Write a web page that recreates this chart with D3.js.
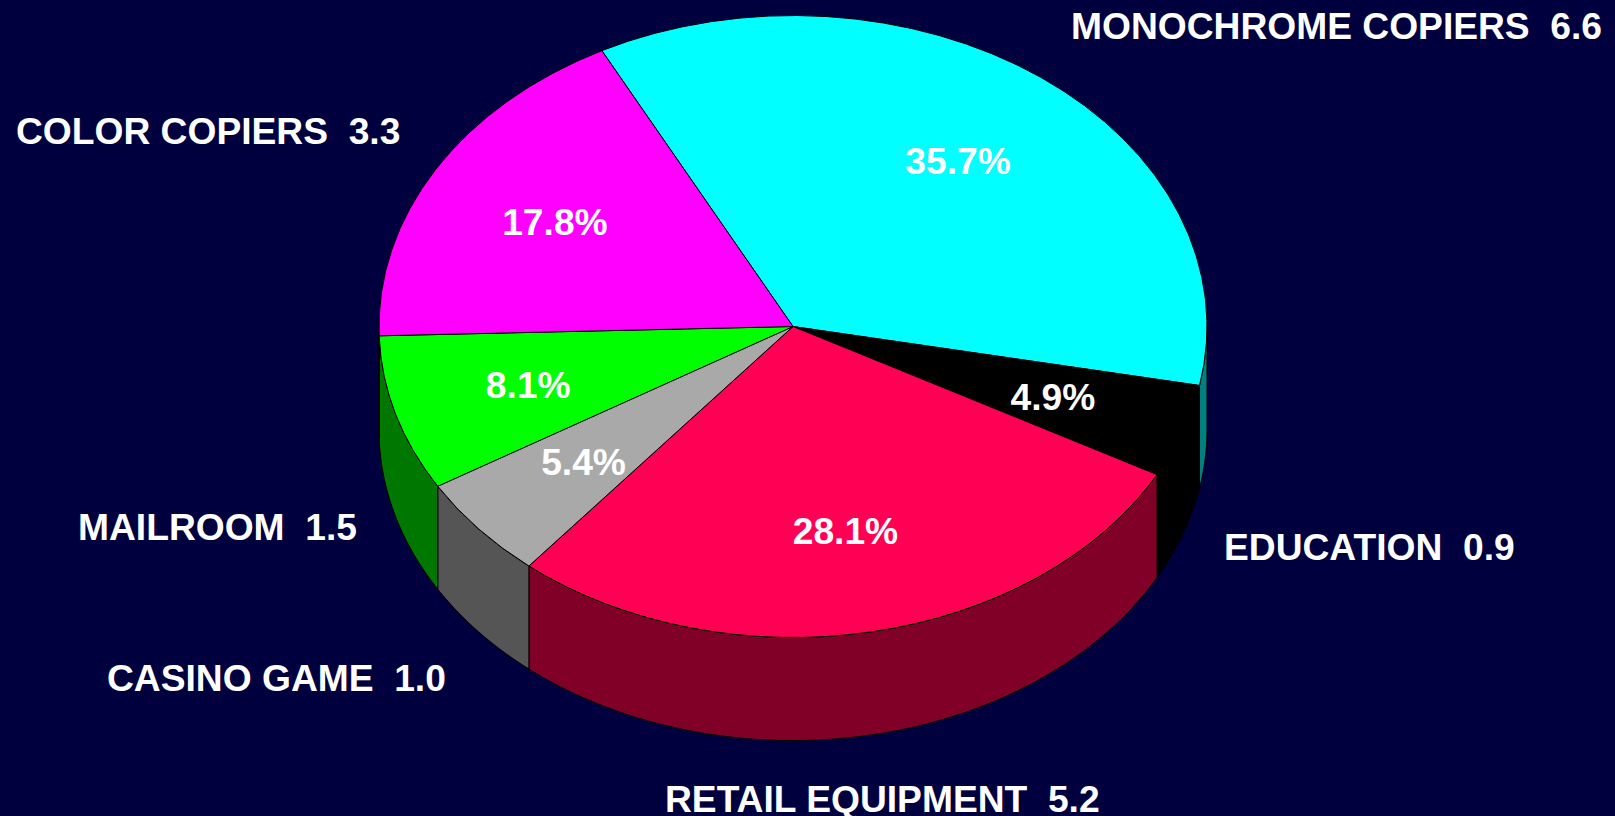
<!DOCTYPE html>
<html>
<head>
<meta charset="utf-8">
<script src="https://cdn.jsdelivr.net/npm/d3@7/dist/d3.min.js"></script>
<style>
html,body{margin:0;padding:0;background:#00003f;overflow:hidden}
svg{display:block}
text{font-family:"Liberation Sans",Arial,sans-serif;font-weight:700;fill:#fff;white-space:pre}
</style>
</head>
<body>
<svg id="chart" width="1615" height="816"></svg>
<script>
const categories = ["MONOCHROME COPIERS","EDUCATION","RETAIL EQUIPMENT","CASINO GAME","MAILROOM","COLOR COPIERS"];
const values = [6.6,0.9,5.2,1.0,1.5,3.3];
const topColors = ["#00ffff","#000000","#ff0055","#a9a9a9","#00ff00","#ff00ff"];
const sideColors = ["#008080","#000000","#800028","#555555","#007800","#800080"];
const labelX = [1071,1224,665,107,78,16];
const labelY = [39,560,812,691,540,144];

const W=1615,H=816,cx=793,cy=326.5,rx=414,ry=311,depth=103;
const fontSize=37.2;
const start=-27.5*Math.PI/180;
const svg=d3.select("#chart");
const total=d3.sum(values);
const arcs=d3.pie().sort(null).startAngle(start).endAngle(start+2*Math.PI).value(d=>d)(values);

const sx=d3.scaleLinear().domain([-1,1]).range([cx-rx,cx+rx]);
const sy=d3.scaleLinear().domain([-1,1]).range([cy-ry,cy+ry]);
const px=a=>sx(Math.sin(a)), py=a=>sy(-Math.cos(a));

// rim: only the front half of the ellipse (sweep from 90deg to 270deg) is visible
function sidePath(a0,a1){
  const lo=Math.PI/2, hi=3*Math.PI/2;
  let s=Math.max(a0,lo), e=Math.min(a1,hi);
  if(e<=s) return null;
  const n=Math.max(2,Math.ceil((e-s)*80));
  const as=d3.range(n+1).map(i=>s+(e-s)*i/n);
  const pts=as.map(a=>[px(a),py(a)]).concat(as.slice().reverse().map(a=>[px(a),py(a)+depth]));
  return d3.line()(pts)+"Z";
}
const sides=svg.append("g");
arcs.forEach((d,i)=>{
  const p=sidePath(d.startAngle,d.endAngle);
  if(p) sides.append("path").attr("d",p).attr("fill",sideColors[i]).attr("stroke","#000").attr("stroke-width",1).attr("stroke-linejoin","round");
});

const arcGen=d3.arc().innerRadius(0).outerRadius(rx);
svg.append("g").attr("transform",`translate(${cx},${cy}) scale(1,${ry/rx})`)
  .selectAll("path").data(arcs).join("path")
  .attr("d",arcGen)
  .attr("fill",(d,i)=>topColors[i])
  .attr("stroke","#000").attr("stroke-width",1).attr("vector-effect","non-scaling-stroke").attr("stroke-linejoin","round");

// percentage labels
svg.append("g").selectAll("text").data(arcs).join("text")
  .attr("x",d=>sx((2/3)*Math.sin((d.startAngle+d.endAngle)/2)))
  .attr("y",d=>sy(-(2/3)*Math.cos((d.startAngle+d.endAngle)/2))+fontSize*0.37)
  .attr("text-anchor","middle").attr("font-size",fontSize)
  .text(d=>(d.value/total*100).toFixed(1)+"%");

// outer labels
svg.append("g").selectAll("text").data(categories).join("text")
  .attr("x",(d,i)=>labelX[i]).attr("y",(d,i)=>labelY[i])
  .attr("font-size",fontSize)
  .text((d,i)=>d+"  "+values[i].toFixed(1));
</script>
</body>
</html>
